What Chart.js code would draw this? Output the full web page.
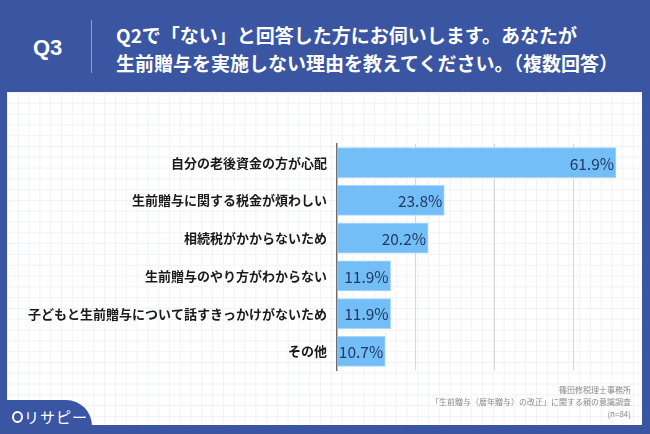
<!DOCTYPE html>
<html>
<head>
    <meta charset="utf-8">
    <title>Q3 生前贈与を実施しない理由</title>
    <script src="https://cdn.jsdelivr.net/npm/chart.js"></script>
    <style>
        body { margin: 0; }
        #page {
            position: relative; width: 650px; height: 434px; overflow: hidden;
            background: #3a55a2; font-family: "Noto Sans CJK JP", sans-serif;
        }
        #q { position: absolute; left: 33px; top: 35px; color: #fff; font: bold 22px "Liberation Sans", Arial, sans-serif; }
        #sep { position: absolute; left: 91px; top: 20px; width: 1px; height: 53px; background: #8a9ccc; }
        #title {
            position: absolute; left: 116px; top: 21px; color: #fff;
            font-weight: bold; font-size: 19px; line-height: 28px; white-space: nowrap;
        }
        #panel {
            position: absolute; left: 7px; top: 92px; width: 635px; height: 333px;
            background-color: #fff;
            background-image: linear-gradient(#f1f2f5 1px, transparent 1px),
                              linear-gradient(90deg, #f1f2f5 1px, transparent 1px);
            background-size: 10.8px 10.8px;
        }
        #chart { position: absolute; left: 8px; top: 126px; }
        #source {
            position: absolute; right: 19px; top: 384px; text-align: right;
            color: #8a8a8a; font-size: 8px; line-height: 12px;
        }
        #logo {
            position: absolute; left: 0; top: 400px; width: 92px; height: 40px;
            background: #3a55a2; border-top-right-radius: 26px;
        }
        #logo span {
            position: absolute; left: 24px; top: 6px; color: #fff;
            font-size: 15px; letter-spacing: 1px; white-space: nowrap;
        }
        #pin { position: absolute; left: 12px; top: 11px; width: 7px; height: 8px; border: 2px solid #fff; border-radius: 50%; }
    </style>
</head>
<body>
<div id="page">
    <div id="q">Q3</div>
    <div id="sep"></div>
    <div id="title">Q2で「ない」と回答した方にお伺いします。あなたが<br>生前贈与を実施しない理由を教えてください。（複数回答）</div>
    <div id="panel"></div>
    <canvas id="chart" width="634" height="262"></canvas>
    <div id="source">篠田修税理士事務所<br>「生前贈与（暦年贈与）の改正」に関する親の意識調査<br>(n=84)</div>
    <div id="logo"><div id="pin"></div><span>リサピー</span></div>
</div>

<script>
    // answer options and share of respondents (%)
    const reasons = [
        '自分の老後資金の方が心配',
        '生前贈与に関する税金が煩わしい',
        '相続税がかからないため',
        '生前贈与のやり方がわからない',
        '子どもと生前贈与について話すきっかけがないため',
        'その他'
    ];
    const shares = [61.9, 23.8, 20.2, 11.9, 11.9, 10.7];
    const gridTicks = [0, 17.5, 35, 52.5];

    // value labels drawn inside the bar ends
    const valueLabels = {
        id: 'valueLabels',
        afterDatasetsDraw(chart) {
            const ctx = chart.ctx;
            ctx.save();
            ctx.font = '15.5px "Noto Sans CJK JP", sans-serif';
            ctx.fillStyle = '#1f3a63';
            ctx.textAlign = 'right';
            ctx.textBaseline = 'middle';
            chart.getDatasetMeta(0).data.forEach((bar, i) => {
                ctx.fillText(shares[i].toFixed(1) + '%', bar.x - 2, bar.y + 1);
            });
            ctx.restore();
        }
    };

    new Chart(document.getElementById('chart'), {
        type: 'bar',
        data: {
            labels: reasons,
            datasets: [{
                data: shares,
                backgroundColor: '#74bef8',
                borderColor: '#a9d7fb',
                borderWidth: 1,
                barThickness: 30
            }]
        },
        options: {
            indexAxis: 'y',
            responsive: false,
            animation: false,
            layout: { padding: { top: 7, bottom: 3, right: 12, left: 0 } },
            plugins: { legend: { display: false }, tooltip: { enabled: false } },
            scales: {
                x: {
                    min: 0,
                    max: 65,
                    afterBuildTicks: scale => { scale.ticks = gridTicks.map(v => ({ value: v })); },
                    afterFit: scale => { scale.height = 0; },
                    ticks: { display: false },
                    border: { display: false },
                    grid: {
                        drawTicks: false,
                        color: c => c.tick && c.tick.value === 0 ? 'rgba(0,0,0,0)' : '#d6d6d6'
                    }
                },
                y: {
                    afterFit: scale => { scale.width = 329; },
                    grid: { display: false, drawTicks: false },
                    border: { display: true, color: '#6e6e6e', width: 1.5 },
                    ticks: {
                        padding: 10,
                        color: '#1a1a1a',
                        font: { family: '"Noto Sans CJK JP", sans-serif', size: 13, weight: 'bold' }
                    }
                }
            }
        },
        plugins: [valueLabels]
    });
</script>
</body>
</html>
